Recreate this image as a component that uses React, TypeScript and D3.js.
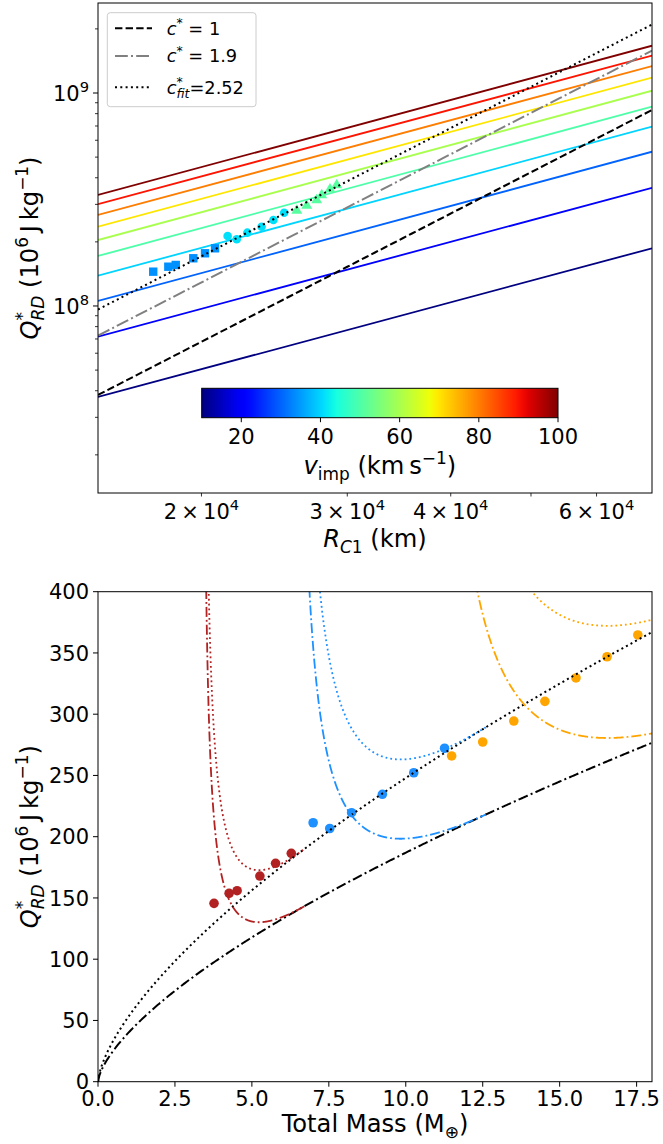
import React from 'react';
import * as d3 from 'd3';

// ---------------- top panel: Q*_RD against R_C1 ----------------
const radiusDomain = [1.5e4, 7.0e4]; // km
const qTopDomain = [1.324e7, 2.646e9]; // J/kg

// constant-impact-velocity lines (km/s), Q*_RD at the two ends of the radius range
const impactVelocities = [10, 20, 30, 40, 50, 60, 70, 80, 90, 100];
const qAtSmallRadius = [3.74e7, 7.18e7, 1.056e8, 1.388e8, 1.717e8, 2.04e8, 2.357e8, 2.674e8, 3.01e8, 3.32e8];
const qAtLargeRadius = [1.866e8, 3.59e8, 5.3e8, 6.95e8, 8.63e8, 1.025e9, 1.18e9, 1.339e9, 1.497e9, 1.667e9];

// Q*_RD = c* (4/5) pi rho G R_C1^2  (rho = 1000 kg/m^3), in J/kg per km^2
const cStarValues = [1, 1.9, 2.52];
const qPerKm2 = 0.1698;

// simulation results
const squareRadius = [17490, 18240, 18620, 19550, 20200, 20770];
const squareQ = [1.449e8, 1.529e8, 1.558e8, 1.675e8, 1.768e8, 1.866e8];
const circleRadius = [21510, 22060, 22720, 23640, 24430, 25170];
const circleQ = [2.13e8, 2.056e8, 2.209e8, 2.357e8, 2.533e8, 2.742e8];
const triangleRadius = [26070, 26800, 27550, 27940, 28590, 29130];
const triangleQ = [2.802e8, 2.958e8, 3.146e8, 3.32e8, 3.53e8, 3.7e8];
const markerVelocities = [34, 41, 51];

const radiusTicks = [2e4, 3e4, 4e4, 5e4, 6e4];
const radiusTickMantissa = ['2', '3', '4', '', '6'];
const qMajorTicks = [1e8, 1e9];
const qMajorExponents = ['8', '9'];
const velocityDomain = [10, 100];
const velocityTicks = [20, 40, 60, 80, 100];

// ---------------- bottom panel: Q*_RD against total mass ----------------
const massTicks = [0, 2.5, 5, 7.5, 10, 12.5, 15, 17.5];
const qTicks = [0, 50, 100, 150, 200, 250, 300, 350, 400];
const redMass = [3.77, 4.26, 4.52, 5.26, 5.77, 6.28];
const redQ = [145.6, 153.8, 155.9, 167.9, 178.3, 186.4];
const blueMass = [6.99, 7.53, 8.24, 9.24, 10.26, 11.26];
const blueQ = [211.4, 206.7, 219.6, 234.6, 252.2, 272.2];
const orangeMass = [11.49, 12.5, 13.51, 14.52, 15.53, 16.54, 17.54];
const orangeQ = [265.9, 277.3, 294.4, 310.5, 329.6, 346.9, 364.7];
const groupColors = ['#b22222', '#1e90ff', '#ffa500'];
const targetMass = [3.35, 6.3, 10.6]; // M_earth
const qOneEarthMass = 21.2; // 10^6 J/kg for c* = 1 at 1 M_earth
const muBar = 0.36;
const bottomCStar = [1.9, 2.52];

// ---------------- layout ----------------
const FONT = 'DejaVu Sans';
const TICK_FS = 21;
const LABEL_FS = 24.2;
const TOP = { l: 98, r: 652, t: 3, b: 493 };
const BOT = { l: 98, r: 652, t: 591.7, b: 1081.7 };
const CBAR = { l: 201.7, r: 558, t: 388.3, b: 417.7 };

function jet(t: number): string {
  const r = d3.scaleLinear().domain([0, 0.35, 0.66, 0.89, 1]).range([0, 0, 1, 1, 0.5]).clamp(true)(t);
  const g = d3.scaleLinear().domain([0, 0.125, 0.375, 0.64, 0.91, 1]).range([0, 0, 1, 1, 0, 0]).clamp(true)(t);
  const b = d3.scaleLinear().domain([0, 0.11, 0.34, 0.65, 1]).range([0.5, 1, 1, 0, 0]).clamp(true)(t);
  return d3.rgb(r * 255, g * 255, b * 255).formatHex();
}
const vNorm = d3.scaleLinear().domain(velocityDomain).range([0, 1]);

type Seg = { t: string; it?: boolean; sc?: number; sh?: number; dx?: number };
function Tex(props: { x: number; y: number; segs: Seg[]; size: number; anchor?: string; rot?: number }) {
  const { x, y, segs, size, anchor = 'start', rot = 0 } = props;
  let prev = 0;
  return (
    <text x={x} y={y} fontSize={size} fontFamily={FONT} textAnchor={anchor as any} fill="#000"
      transform={rot ? `rotate(${rot} ${x} ${y})` : undefined}>
      {segs.map((s, i) => {
        const shift = (s.sh ?? 0) * size;
        const dy = shift - prev;
        prev = shift;
        return (
          <tspan key={i} dy={dy} dx={s.dx ? s.dx * size : undefined} fontSize={(s.sc ?? 1) * size}
            fontStyle={s.it ? 'italic' : 'normal'}>{s.t}</tspan>
        );
      })}
    </text>
  );
}
const SUP = -0.42;
const SUB = 0.24;

const qLabelSegs: Seg[] = [
  { t: 'Q', it: true },
  { t: '*', sc: 0.7, sh: SUP },
  { t: 'RD', it: true, sc: 0.7, sh: SUB, dx: -0.35 },
  { t: ' (10', sh: 0 },
  { t: '6', sc: 0.7, sh: SUP },
  { t: '\u2009J\u2009kg', sh: 0 },
  { t: '\u22121', sc: 0.7, sh: SUP },
  { t: ')', sh: 0 },
];

function TopPanel() {
  const x = d3.scaleLog().domain(radiusDomain).range([TOP.l, TOP.r]);
  const y = d3.scaleLog().domain(qTopDomain).range([TOP.b, TOP.t]);
  const line = d3.line<[number, number]>().x((d) => x(d[0])).y((d) => y(d[1]));
  const qMinors: number[] = [];
  [7, 8, 9].forEach((n) => d3.range(2, 10).forEach((k) => {
    const v = k * Math.pow(10, n);
    if (v > qTopDomain[0] && v < qTopDomain[1]) qMinors.push(v);
  }));
  const rSamples = d3.range(0, 61).map((i) => radiusDomain[0] * Math.pow(radiusDomain[1] / radiusDomain[0], i / 60));
  const cStyles = [
    { stroke: '#000', dash: '7.4,3.2' },
    { stroke: '#808080', dash: '12.8,3.2,2,3.2' },
    { stroke: '#000', dash: '2,3.3' },
  ];
  const tri = d3.symbol().type(d3.symbolTriangle).size(52)() as string;
  const gradStops = d3.range(0, 1.0001, 0.02);
  const cx = d3.scaleLinear().domain(velocityDomain).range([CBAR.l, CBAR.r]);
  const legendRows = [
    { y: 28.3, segs: [{ t: 'c', it: true }, { t: '*', sc: 0.7, sh: SUP }, { t: ' = 1', sh: 0 }] as Seg[] },
    { y: 56, segs: [{ t: 'c', it: true }, { t: '*', sc: 0.7, sh: SUP }, { t: ' = 1.9', sh: 0 }] as Seg[] },
    { y: 87.3, segs: [{ t: 'c', it: true }, { t: '*', sc: 0.7, sh: SUP }, { t: 'fit', it: true, sc: 0.7, sh: SUB + 0.04, dx: -0.35 }, { t: '=2.52', sh: 0 }] as Seg[] },
  ];
  return (
    <g>
      <defs>
        <clipPath id="topClip"><rect x={TOP.l} y={TOP.t} width={TOP.r - TOP.l} height={TOP.b - TOP.t} /></clipPath>
        <linearGradient id="jetGrad" x1="0" x2="1" y1="0" y2="0">
          {gradStops.map((t) => <stop key={t} offset={t} stopColor={jet(t)} />)}
        </linearGradient>
      </defs>
      <g clipPath="url(#topClip)">
        {impactVelocities.map((v, i) => (
          <path key={v} d={line([[radiusDomain[0], qAtSmallRadius[i]], [radiusDomain[1], qAtLargeRadius[i]]]) as string}
            fill="none" stroke={jet(vNorm(v))} strokeWidth={1.8} />
        ))}
        {squareRadius.map((r, i) => (
          <rect key={'s' + i} x={x(r) - 4.2} y={y(squareQ[i]) - 4.2} width={8.4} height={8.4} fill={jet(vNorm(markerVelocities[0]))} />
        ))}
        {circleRadius.map((r, i) => (
          <circle key={'c' + i} cx={x(r)} cy={y(circleQ[i])} r={4.3} fill={jet(vNorm(markerVelocities[1]))} />
        ))}
        {triangleRadius.map((r, i) => (
          <path key={'t' + i} d={tri} transform={`translate(${x(r)},${y(triangleQ[i])})`} fill={jet(vNorm(markerVelocities[2]))} />
        ))}
        {cStarValues.map((c, i) => (
          <path key={c} d={line(rSamples.map((r) => [r, c * qPerKm2 * r * r] as [number, number])) as string}
            fill="none" stroke={cStyles[i].stroke} strokeWidth={2} strokeDasharray={cStyles[i].dash} />
        ))}
      </g>
      {/* frame */}
      <rect x={TOP.l} y={TOP.t} width={TOP.r - TOP.l} height={TOP.b - TOP.t} fill="none" stroke="#000" strokeWidth={1} />
      {/* y ticks */}
      {qMinors.map((v) => <line key={v} x1={TOP.l - 3} x2={TOP.l} y1={y(v)} y2={y(v)} stroke="#000" strokeWidth={0.8} />)}
      {qMajorTicks.map((v, i) => (
        <g key={v}>
          <line x1={TOP.l - 5} x2={TOP.l} y1={y(v)} y2={y(v)} stroke="#000" strokeWidth={1} />
          <Tex x={TOP.l - 9} y={y(v) + 7.6} size={TICK_FS} anchor="end"
            segs={[{ t: '10' }, { t: qMajorExponents[i], sc: 0.7, sh: SUP }]} />
        </g>
      ))}
      {/* x ticks */}
      {radiusTicks.map((v, i) => (
        <g key={v}>
          <line x1={x(v)} x2={x(v)} y1={TOP.b} y2={TOP.b + 3.5} stroke="#000" strokeWidth={0.8} />
          {radiusTickMantissa[i] && (
            <Tex x={x(v)} y={518.5} size={TICK_FS} anchor="middle"
              segs={[{ t: radiusTickMantissa[i] + '\u2009\u00d7\u200910' }, { t: '4', sc: 0.7, sh: SUP }]} />
          )}
        </g>
      ))}
      <Tex x={(TOP.l + TOP.r) / 2} y={547} size={LABEL_FS} anchor="middle"
        segs={[{ t: 'R', it: true }, { t: 'C', it: true, sc: 0.7, sh: SUB }, { t: '1', sc: 0.7, sh: SUB }, { t: ' (km)', sh: 0 }]} />
      <Tex x={38} y={(TOP.t + TOP.b) / 2} size={LABEL_FS} anchor="middle" rot={-90} segs={qLabelSegs} />
      {/* colorbar */}
      <rect x={CBAR.l} y={CBAR.t} width={CBAR.r - CBAR.l} height={CBAR.b - CBAR.t} fill="url(#jetGrad)" stroke="#000" strokeWidth={1} />
      {velocityTicks.map((v) => (
        <g key={v}>
          <line x1={cx(v)} x2={cx(v)} y1={CBAR.b} y2={CBAR.b + 4.5} stroke="#000" strokeWidth={1} />
          <text x={cx(v)} y={443.5} fontSize={TICK_FS} fontFamily={FONT} textAnchor="middle">{v}</text>
        </g>
      ))}
      <Tex x={(CBAR.l + CBAR.r) / 2} y={474} size={LABEL_FS} anchor="middle"
        segs={[{ t: 'v', it: true }, { t: 'imp', sc: 0.7, sh: SUB }, { t: ' (km\u2009s', sh: 0 }, { t: '\u22121', sc: 0.7, sh: SUP }, { t: ')', sh: 0 }]} />
      {/* legend */}
      <rect x={107.3} y={12.7} width={148.7} height={94} rx={3} fill="#fff" fillOpacity={0.8} stroke="#cccccc" strokeWidth={1} />
      {legendRows.map((row, i) => (
        <g key={i}>
          <line x1={115} x2={152} y1={row.y} y2={row.y} stroke={cStyles[i].stroke} strokeWidth={2} strokeDasharray={cStyles[i].dash} />
          <Tex x={166.7} y={row.y + 6.2} size={17.8} segs={row.segs} />
        </g>
      ))}
    </g>
  );
}

function BottomPanel() {
  const x = d3.scaleLinear().domain([0, 18]).range([BOT.l, BOT.r]);
  const y = d3.scaleLinear().domain([0, 400]).range([BOT.b, BOT.t]);
  const line = d3.line<[number, number]>().x((d) => x(d[0])).y((d) => y(d[1]));
  const base = (c: number, m: number) => c * qOneEarthMass * Math.pow(m, 2 / 3);
  const withRatio = (c: number, m: number, mt: number) => {
    const g = m / mt - 1;
    return base(c, m) * Math.pow(((1 + g) * (1 + g)) / (4 * g), 2 / (3 * muBar) - 1);
  };
  const massSamples = d3.range(0, 401).map((i) => (18 * i) / 400);
  const groups = [
    { m: redMass, q: redQ },
    { m: blueMass, q: blueQ },
    { m: orangeMass, q: orangeQ },
  ];
  const baseDash = ['10,3.2,2,3.2', '2,3.2'];
  const curveDash = ['10,3,1.8,3', '1.8,3'];
  return (
    <g>
      <defs>
        <clipPath id="botClip"><rect x={BOT.l} y={BOT.t} width={BOT.r - BOT.l} height={BOT.b - BOT.t} /></clipPath>
      </defs>
      <g clipPath="url(#botClip)">
        {groups.map((gp, gi) => gp.m.map((m, i) => (
          <circle key={gi + '-' + i} cx={x(m)} cy={y(gp.q[i])} r={4.8} fill={groupColors[gi]} />
        )))}
        {bottomCStar.map((c, ci) => (
          <path key={'b' + c} d={line(massSamples.map((m) => [m, base(c, m)] as [number, number])) as string}
            fill="none" stroke="#000" strokeWidth={2} strokeDasharray={baseDash[ci]} />
        ))}
        {targetMass.map((mt, gi) => bottomCStar.map((c, ci) => {
          const mEnd = Math.min(2 * mt, 18);
          const pts = d3.range(1, 1201).map((k) => {
            const m = mt + ((mEnd - mt) * k) / 1200;
            return [m, Math.min(withRatio(c, m, mt), 2000)] as [number, number];
          });
          return (
            <path key={gi + '-' + ci} d={line(pts) as string} fill="none" stroke={groupColors[gi]}
              strokeWidth={1.8} strokeDasharray={curveDash[ci]} />
          );
        }))}
      </g>
      <rect x={BOT.l} y={BOT.t} width={BOT.r - BOT.l} height={BOT.b - BOT.t} fill="none" stroke="#000" strokeWidth={1} />
      {qTicks.map((v) => (
        <g key={v}>
          <line x1={BOT.l - 5} x2={BOT.l} y1={y(v)} y2={y(v)} stroke="#000" strokeWidth={1} />
          <text x={BOT.l - 9} y={y(v) + 7.6} fontSize={TICK_FS} fontFamily={FONT} textAnchor="end">{v}</text>
        </g>
      ))}
      {massTicks.map((v) => (
        <g key={v}>
          <line x1={x(v)} x2={x(v)} y1={BOT.b} y2={BOT.b + 5} stroke="#000" strokeWidth={1} />
          <text x={x(v)} y={1106} fontSize={TICK_FS} fontFamily={FONT} textAnchor="middle">{v.toFixed(1)}</text>
        </g>
      ))}
      <Tex x={(BOT.l + BOT.r) / 2} y={1132} size={LABEL_FS} anchor="middle"
        segs={[{ t: 'Total Mass (M' }, { t: '\u2295', sc: 0.7, sh: SUB }, { t: ')', sh: 0 }]} />
      <Tex x={38} y={(BOT.t + BOT.b) / 2} size={LABEL_FS} anchor="middle" rot={-90} segs={qLabelSegs} />
    </g>
  );
}

export default function App() {
  return (
    <svg width={663} height={1144} viewBox="0 0 663 1144"
      style={{ position: 'absolute', left: 0, top: 0, background: '#fff' }}>
      <rect x={0} y={0} width={663} height={1144} fill="#fff" />
      <TopPanel />
      <BottomPanel />
    </svg>
  );
}
